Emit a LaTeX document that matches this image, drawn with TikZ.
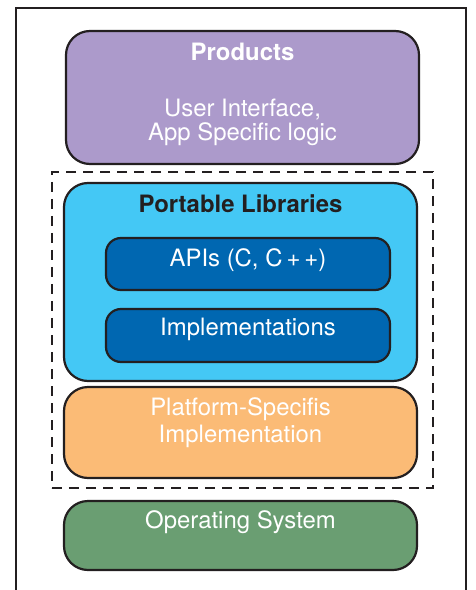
\documentclass[tikz,border=0pt]{standalone}
\usepackage{fontspec}
\setmainfont{TeX Gyre Heros}
\usetikzlibrary{positioning}
\definecolor{cProd}{RGB}{172,154,203}
\definecolor{cPort}{RGB}{68,200,245}
\definecolor{cApi}{RGB}{0,103,177}
\definecolor{cPlat}{RGB}{251,187,118}
\definecolor{cOS}{RGB}{106,158,114}
\definecolor{cLine}{RGB}{35,31,32}
\tikzset{
	layer/.style   ={rectangle, rounded corners=24bp, draw=cLine, line width=2.2bp, minimum width=353bp, inner sep=0pt},
	sublayer/.style={rectangle, rounded corners=15bp, draw=cLine, line width=2.2bp, fill=cApi, minimum width=284bp, inner sep=0pt},
	grp/.style     ={rectangle, draw=cLine, line width=2.5bp, dash pattern=on 10bp off 7bp, minimum width=381bp, minimum height=316bp, inner sep=0pt},
	lbl/.style     ={anchor=base, inner sep=0pt, align=center, text=white, font=\fontsize{24}{27.3}\selectfont},
	title/.style   ={lbl, font=\fontsize{24}{27.3}\selectfont\bfseries},
}
\begin{document}
\begin{tikzpicture}[x=1bp, y=-1bp]
				\useasboundingbox (0,0) rectangle (476,590);
				% outer frame, open at the bottom
				\draw[cLine, line width=1.5bp] (16,590) -- (16,8) -- (466,8) -- (466,590);
				% layers
				\node[layer, fill=cProd, minimum height=133bp] (prod) at (242.5,97.5) {};
				\node[grp] (grp) at (242.5,330) {};
				\node[layer, fill=cPort, minimum height=198bp] (port) at (240.5,282) {};
				\node[sublayer, minimum height=52bp] (api) at (248,264) {};
				\node[sublayer, minimum height=53bp] (impl) at (248,335.5) {};
				\node[layer, fill=cPlat, minimum height=91bp] (plat) at (240.5,432.5) {};
				\node[layer, fill=cOS, minimum height=69bp] (os) at (240.5,535.5) {};
				% texts (base = baseline of the last line)
				\node[title] (prodT) at ([yshift=-30.7bp]prod.north) {Products};
				\node[lbl, font=\fontsize{24}{23.5}\selectfont] (prodB) at ([yshift=-110.5bp]prod.north) {User Interface,\\App Specific logic};
				\node[title, text=cLine] (portT) at ([yshift=-30.3bp]port.north) {Portable Libraries};
				\node[lbl] (apiT) at ([yshift=-29.3bp]api.north) {APIs (C, C\,+\,+)};
				\node[lbl] (implT) at ([yshift=-28bp]impl.north) {Implementations};
				\node[lbl] (platT) at ([yshift=-57bp]plat.north) {Platform-Specifis\\Implementation};
				\node[lbl] (osT) at ([yshift=-28.3bp]os.north) {Operating System};
			\end{tikzpicture}
\end{document}
